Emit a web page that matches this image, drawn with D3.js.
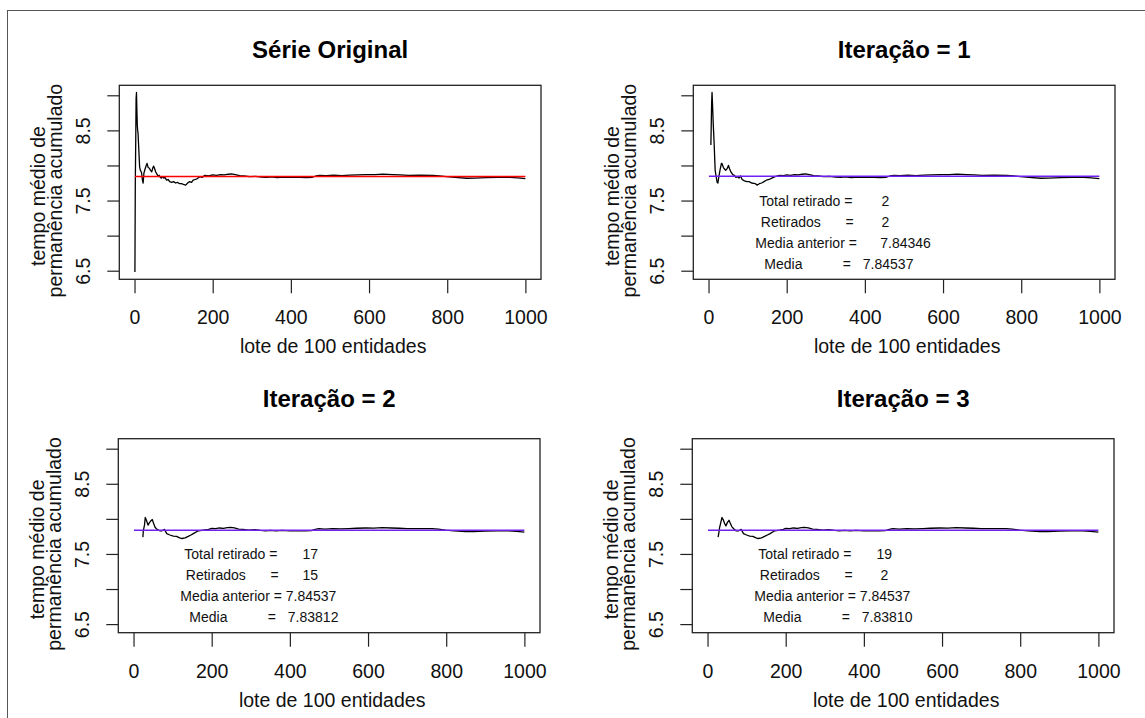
<!DOCTYPE html>
<html>
<head>
<meta charset="utf-8">
<script src="https://cdn.jsdelivr.net/npm/d3@7"></script>
<style>
  body { margin: 0; background: #fff; }
  svg { font-family: "Liberation Sans", Arial, Helvetica, sans-serif; }
</style>
</head>
<body>
<div id="chart"></div>
<script>
// ---- dados ----
const titulos = ['Série Original', 'Iteração = 1', 'Iteração = 2', 'Iteração = 3'];
const xTicks = [0, 200, 400, 600, 800, 1000];
const yTicks = [6.5, 7, 7.5, 8, 8.5, 9];
const yTickLabels = ['6.5', '', '7.5', '', '8.5', ''];
const xLabel = 'lote de 100 entidades';
const yLabel = ['tempo médio de', 'permanência acumulado'];
const loteRange = [1, 1000];

// inicio de cada serie (lote, media acumulada)
const inicioOriginal = [[1,6.48],[2,7.76],[3,8.3],[4,8.95],[5,9.04],[6,8.8],[7,8.58],[8,8.5],[9,8.46],[11,8.22],[13,7.98],[15,7.93],[18,7.9],[20,7.8],[22,7.75],[24,7.89],[27,7.95],[30,8.0],[32,8.03],[35,7.97],[38,7.96],[41,7.93],[44,7.91],[47,7.97],[49,7.99],[51,7.96],[54,7.91],[57,7.88],[60,7.85],[63,7.86],[66,7.83],[69,7.82],[72,7.84],[75,7.82],[78,7.83],[82,7.79],[86,7.8],[90,7.77],[95,7.76],[100,7.77],[105,7.75],[110,7.76],[115,7.74],[120,7.74],[125,7.73],[131,7.72],[136,7.75],[141,7.77],[146,7.76],[150,7.79],[155,7.8],[160,7.81],[167,7.84],[173,7.83],[180,7.86],[190,7.85]];
const inicioIter1 = [[6,8.29],[8,8.9],[9,9.04],[10,8.9],[12,8.6],[14,8.36],[17,7.93],[19,7.86],[22,7.76],[24,7.75],[27,7.86],[30,7.95],[33,8.03],[35,8.02],[38,7.97],[41,7.95],[44,7.93],[48,7.96],[51,8.0],[54,7.95],[58,7.9],[62,7.87],[66,7.86],[70,7.83],[74,7.84],[78,7.82],[82,7.85],[86,7.8],[92,7.78],[98,7.77],[104,7.77],[110,7.75],[116,7.745],[120,7.74],[124,7.72],[130,7.74],[136,7.75],[142,7.77],[148,7.79],[155,7.8],[162,7.82],[170,7.84],[182,7.86],[192,7.855]];
const inicioIter2 = [[24,7.74],[25,7.83],[28,7.91],[30,8.02],[33,7.98],[37,7.91],[40,7.94],[44,7.97],[48,7.99],[51,7.94],[55,7.88],[60,7.85],[67,7.83],[73,7.83],[79,7.85],[85,7.79],[93,7.77],[102,7.755],[110,7.75],[118,7.73],[124,7.72],[132,7.73],[140,7.75],[147,7.77],[153,7.79],[166,7.83],[179,7.84],[192,7.85]];
const inicioIter3 = [[27,7.74],[29,7.8],[31,7.88],[34,7.95],[37,8.02],[40,7.99],[44,7.93],[47,7.9],[51,7.95],[55,7.98],[58,7.94],[62,7.89],[67,7.86],[73,7.83],[80,7.83],[86,7.85],[92,7.79],[100,7.77],[108,7.755],[116,7.75],[124,7.73],[130,7.72],[138,7.73],[146,7.75],[153,7.77],[160,7.79],[172,7.83],[184,7.84],[194,7.85]];
// trecho final, igual nas quatro series
const caudaComum = [[200,7.865],[210,7.86],[220,7.87],[230,7.865],[240,7.875],[248,7.88],[258,7.87],[269,7.855],[280,7.85],[295,7.84],[310,7.845],[325,7.835],[338,7.83],[350,7.836],[365,7.828],[380,7.835],[400,7.83],[423,7.832],[440,7.828],[455,7.832],[465,7.85],[474,7.86],[490,7.855],[510,7.862],[530,7.856],[551,7.862],[570,7.866],[594,7.87],[615,7.868],[636,7.876],[660,7.87],[680,7.866],[700,7.86],[730,7.862],[764,7.86],[780,7.853],[798,7.84],[820,7.83],[850,7.818],[870,7.82],[900,7.826],[930,7.83],[960,7.83],[980,7.822],[1000,7.812]];

const medias = [7.84346, 7.84537, 7.83812, 7.83810];
const coresMedia = ['#ff0000', '#7020f0', '#7020f0', '#7020f0'];

const totalRetirado = [null, '2', '17', '19'];
const retirados = [null, '2', '15', '2'];
const mediaAnterior = [null, '      7.84346', ' 7.84537', ' 7.84537'];
const mediaAtual = [null, '7.84537', '7.83812', '7.83810'];

// ---- layout ----
const width = 1145, height = 718;
const boxW = 421.7, boxH = 194;
const panels = [
  {left: 119.3, top: 85.3, titleDy: 27},
  {left: 693.3, top: 85.3, titleDy: 27},
  {left: 118.3, top: 438.7, titleDy: 32},
  {left: 692.3, top: 438.7, titleDy: 32}
];

const serieOriginal = inicioOriginal.concat(caudaComum);
const series = [serieOriginal, inicioIter1.concat(caudaComum), inicioIter2.concat(caudaComum), inicioIter3.concat(caudaComum)];

const pad = ([a, b]) => { const e = (b - a) * 0.04; return [a - e, b + e]; };

const xScale = d3.scaleLinear().domain(pad(loteRange)).range([0, boxW]);
const yScale = d3.scaleLinear().domain(pad(d3.extent(serieOriginal, d => d[1]))).range([boxH, 0]);
const line = d3.line().x(d => xScale(d[0])).y(d => yScale(d[1]));

const svg = d3.select('#chart').append('svg')
              .attr('width', width)
              .attr('height', height);

svg.append('rect')
   .attr('x', 7.5).attr('y', 10.5)
   .attr('width', 1200).attr('height', 800)
   .attr('fill', 'none').attr('stroke', '#555');

panels.forEach((p, i) => {
  const g = svg.append('g').attr('transform', `translate(${p.left}, ${p.top})`);

  // titulo
  g.append('text')
   .attr('x', boxW / 2).attr('y', -p.titleDy)
   .attr('text-anchor', 'middle')
   .style('font-size', '24px').style('font-weight', 'bold')
   .text(titulos[i]);

  // eixo y
  const gy = g.append('g')
              .call(d3.axisLeft(yScale).tickValues(yTicks).tickSize(12)
                      .tickFormat(d => yTickLabels[yTicks.indexOf(d)]));
  gy.select('.domain').remove();
  gy.attr('font-size', null).attr('font-family', null);
  gy.selectAll('line').attr('stroke', '#222').attr('stroke-width', 1.2);
  gy.selectAll('text')
    .attr('x', null).attr('dy', null)
    .attr('text-anchor', 'middle')
    .attr('transform', 'translate(-29,0) rotate(-90)')
    .attr('fill', '#111')
    .style('font-size', '19.5px');

  // eixo x
  const gx = g.append('g')
              .attr('transform', `translate(0, ${boxH})`)
              .call(d3.axisBottom(xScale).tickValues(xTicks).tickSize(14)
                      .tickFormat(d3.format('d')));
  gx.select('.domain').remove();
  gx.attr('font-size', null).attr('font-family', null);
  gx.selectAll('line').attr('stroke', '#222').attr('stroke-width', 1.2);
  gx.selectAll('text')
    .attr('y', 45).attr('dy', null)
    .attr('fill', '#111')
    .style('font-size', '19.5px');

  // rotulos dos eixos
  g.append('text')
   .attr('x', boxW / 2 + 3).attr('y', boxH + 74)
   .attr('text-anchor', 'middle')
   .attr('fill', '#111')
   .style('font-size', '19.5px')
   .text(xLabel);

  [[-74.4, 13.7], [-57.2, 8.3]].forEach(([dx, dy], k) => {
    g.append('text')
     .attr('transform', `translate(${dx}, ${boxH / 2 + dy}) rotate(-90)`)
     .attr('text-anchor', 'middle')
     .attr('fill', '#111')
     .style('font-size', '19.5px')
     .text(yLabel[k]);
  });

  // serie
  g.append('path')
   .datum(series[i])
   .attr('d', line)
   .attr('fill', 'none')
   .attr('stroke', '#000')
   .attr('stroke-width', 1.3)
   .attr('stroke-linejoin', 'round');

  // media
  g.append('line')
   .attr('x1', xScale(loteRange[0])).attr('x2', xScale(loteRange[1]))
   .attr('y1', yScale(medias[i])).attr('y2', yScale(medias[i]))
   .attr('stroke', coresMedia[i])
   .attr('stroke-width', 1.4);

  // caixa
  g.append('rect')
   .attr('width', boxW).attr('height', boxH)
   .attr('fill', 'none')
   .attr('stroke', '#222').attr('stroke-width', 1.3);

  // anotacoes
  if (totalRetirado[i] !== null) {
    const ax = xScale(130), ay = yScale(7.424);
    const ann = g.append('g').style('font-size', '14px').attr('fill', '#111');
    const put = (x, y, txt, anchor) => ann.append('text')
      .attr('x', x).attr('y', y)
      .attr('text-anchor', anchor || 'start')
      .attr('xml:space', 'preserve')
      .style('white-space', 'pre')
      .text(txt);

    put(ax, ay, 'Total retirado =');
    put(ax + 126, ay, totalRetirado[i], 'middle');

    put(ax + 1.5, ay + 21, 'Retirados');
    put(ax + 90.3, ay + 21, '=', 'middle');
    put(ax + 126, ay + 21, retirados[i], 'middle');

    put(ax - 4, ay + 42, 'Media anterior =' + mediaAnterior[i]);

    put(ax + 5, ay + 63, 'Media');
    put(ax + 87.5, ay + 63, '=', 'middle');
    put(ax + 103.5, ay + 63, mediaAtual[i]);
  }
});
</script>
</body>
</html>
